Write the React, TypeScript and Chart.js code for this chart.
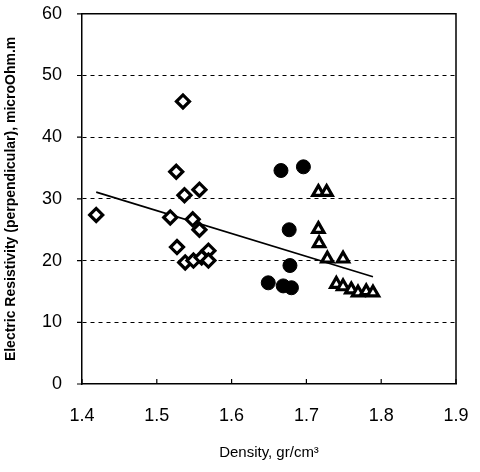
import React, { useEffect, useRef } from "react";
import { Chart, registerables } from "chart.js";

Chart.register(...registerables);

const diamondX = [1.419, 1.535, 1.526, 1.537, 1.557, 1.518, 1.548, 1.557, 1.527, 1.538, 1.549, 1.56, 1.569, 1.569];
const diamondY = [27.4, 45.8, 34.4, 30.6, 31.5, 27.0, 26.7, 25.0, 22.2, 19.7, 20.0, 20.5, 21.6, 20.0];

const circleX = [1.666, 1.696, 1.677, 1.678, 1.649, 1.669, 1.68];
const circleY = [34.6, 35.2, 25.0, 19.2, 16.4, 15.9, 15.6];

const triangleX = [1.716, 1.727, 1.716, 1.717, 1.728, 1.749, 1.74, 1.749, 1.76, 1.769, 1.78, 1.789];
const triangleY = [31.1, 31.1, 25.1, 22.8, 20.3, 20.3, 16.2, 15.8, 15.3, 14.8, 15.0, 14.8];

const trendX = [1.419, 1.789];
const trendY = [31.1, 17.4];

const xTicks = [1.4, 1.5, 1.6, 1.7, 1.8, 1.9];
const yTicks = [0, 10, 20, 30, 40, 50, 60];

const xTitle = "Density, gr/cm³";
const yTitle = "Electric Resistivity (perpendicular), microOhm.m";

const zip = (xs: number[], ys: number[]) => xs.map((x, i) => ({ x, y: ys[i] }));

const framePlugin = {
  id: "frame",
  afterDraw(chart: any) {
    const { ctx, chartArea } = chart;
    const xs = chart.scales.x;
    const ys = chart.scales.y;
    ctx.save();
    ctx.strokeStyle = "#000";
    ctx.lineWidth = 1.5;
    ctx.beginPath();
    ctx.moveTo(chartArea.left, chartArea.top);
    ctx.lineTo(chartArea.right, chartArea.top);
    ctx.lineTo(chartArea.right, chartArea.bottom);
    ctx.stroke();
    ctx.lineWidth = 1.2;
    ctx.beginPath();
    yTicks.forEach((v) => {
      const py = ys.getPixelForValue(v);
      ctx.moveTo(chartArea.left - 5, py);
      ctx.lineTo(chartArea.left, py);
    });
    xTicks.forEach((v) => {
      const px = xs.getPixelForValue(v);
      ctx.moveTo(px, chartArea.bottom);
      ctx.lineTo(px, chartArea.bottom - 5);
    });
    ctx.stroke();
    ctx.restore();
  },
};

export default function App() {
  const ref = useRef<HTMLCanvasElement | null>(null);

  useEffect(() => {
    document.body.style.margin = "0";
    const canvas = ref.current;
    if (!canvas) return;
    const font = "'Liberation Sans', Arial, sans-serif";
    const chart = new Chart(canvas, {
      type: "scatter",
      data: {
        datasets: [
          {
            type: "line",
            data: zip(trendX, trendY),
            borderColor: "#000",
            borderWidth: 1.6,
            pointRadius: 0,
            fill: false,
            order: 5,
          },
          {
            data: zip(diamondX, diamondY),
            pointStyle: "rectRot",
            pointRadius: 6.5,
            borderWidth: 3.2,
            borderColor: "#000",
            backgroundColor: "#fff",
          },
          {
            data: zip(circleX, circleY),
            pointStyle: "circle",
            pointRadius: 7,
            borderWidth: 1,
            borderColor: "#000",
            backgroundColor: "#000",
          },
          {
            data: zip(triangleX, triangleY),
            pointStyle: "triangle",
            pointRadius: 6.5,
            borderWidth: 3.2,
            borderColor: "#000",
            backgroundColor: "#fff",
          },
        ],
      } as any,
      options: {
        animation: false,
        responsive: true,
        maintainAspectRatio: false,
        layout: { padding: { left: 0, right: 24, top: 2, bottom: 0 } },
        plugins: { legend: { display: false }, tooltip: { enabled: false } },
        scales: {
          x: {
            type: "linear",
            min: 1.4,
            max: 1.9,
            afterBuildTicks: (axis: any) => {
              axis.ticks = xTicks.map((v) => ({ value: v }));
            },
            afterFit: (axis: any) => {
              axis.height = 88;
            },
            ticks: {
              color: "#000",
              font: { family: font, size: 18 },
              padding: 2,
              maxRotation: 0,
              callback: (v: any) => Number(v).toFixed(1),
            },
            grid: {
              display: true,
              drawOnChartArea: false,
              drawTicks: true,
              tickLength: 19,
              tickColor: "rgba(0,0,0,0)",
              color: "rgba(0,0,0,0)",
            },
            border: { color: "#000", width: 1.5 },
            title: {
              display: true,
              text: xTitle,
              color: "#000",
              font: { family: font, size: 15 },
              padding: { top: 0, bottom: 10 },
            },
          },
          y: {
            type: "linear",
            min: 0,
            max: 60,
            afterBuildTicks: (axis: any) => {
              axis.ticks = yTicks.map((v) => ({ value: v }));
            },
            afterFit: (axis: any) => {
              axis.width = 82;
            },
            ticks: {
              color: "#000",
              font: { family: font, size: 18 },
              padding: 3,
            },
            grid: {
              color: (c: any) =>
                c.tick && (c.tick.value === 0 || c.tick.value === 60) ? "rgba(0,0,0,0)" : "#000",
              lineWidth: 1,
              tickLength: 17,
              tickColor: "rgba(0,0,0,0)",
              tickBorderDash: [],
            },
            border: { color: "#000", width: 1.5, dash: [4, 4] },
            title: {
              display: true,
              text: yTitle,
              color: "#000",
              font: { family: font, size: 14, weight: "bold" },
              padding: { top: 3, bottom: 0 },
            },
          },
        },
      } as any,
      plugins: [framePlugin],
    });
    return () => chart.destroy();
  }, []);

  return (
    <div style={{ width: 480, height: 472, position: "relative", background: "#fff" }}>
      <canvas ref={ref} />
    </div>
  );
}
